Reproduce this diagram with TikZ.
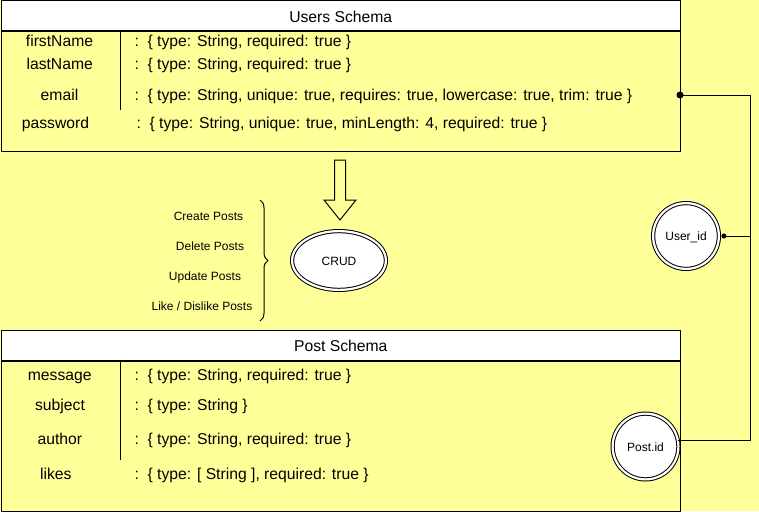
\documentclass[tikz,border=0pt]{standalone}
\usepackage{fontspec}
\setmainfont{Liberation Sans}
\usetikzlibrary{shapes.geometric,decorations.pathreplacing,arrows.meta}
\definecolor{note}{HTML}{FFFF99}

\begin{document}
\begin{tikzpicture}[x=1pt,y=-1pt,line width=1pt,line join=miter,
        every node/.style={font=\fontsize{15.7}{18}\selectfont,inner sep=0pt},
        schemahead/.style={draw,fill=white,anchor=north west,minimum width=679.5pt,minimum height=29.5pt,text height=13pt,text depth=0pt},
        schemabody/.style={draw,anchor=north west,minimum width=679.5pt},
        fieldname/.style={anchor=base},
        fieldspec/.style={anchor=base west},
        action/.style={anchor=base,font=\fontsize{12}{14}\selectfont},
        idcircle/.style={circle,draw,fill=white,double=white,double distance=2.2pt,minimum size=65.8pt,
            font=\fontsize{12}{14}\selectfont,text height=9pt,text depth=0pt}]
        \useasboundingbox (0,0) rectangle (759,511);
        \fill[note] (0,0) rectangle (759,511);
        % users schema
        \node[schemahead] (usershead) at (0.5,0.5) {Users Schema};
        \node[schemabody,minimum height=120pt] (usersbody) at (usershead.south west) {};
        \draw (120,30) -- (120,110);
        \foreach \fld/\yb/\xf/\xv/\spec in {
            {firstName/47/59.5/134/type: String, required: true},
            {lastName/69.3/59.7/134/type: String, required: true},
            {email/100/59.5/134/type: String, unique: true, requires: true, lowercase: true, trim: true},
            {password/128.3/55.5/136/type: String, unique: true, minLength: 4, required: true}}{
            \node[fieldname] (u-\fld) at (\xf,\yb) {\fld};
            \node[fieldspec] (u-\fld-spec) at (\xv,\yb) {:\ \ \{ \spec\ \}};
        }
        % post schema
        \node[schemahead] (posthead) at (0.5,330) {Post Schema};
        \node[schemabody,minimum height=150.5pt] (postbody) at (posthead.south west) {};
        \draw (120,359.5) -- (120,460);
        \foreach \fld/\yb/\xf/\spec in {
            {message/380/59.7/type: String, required: true},
            {subject/410/60/type: String},
            {author/444.3/59.8/type: String, required: true},
            {likes/479.3/55.8/type: [ String ], required: true}}{
            \node[fieldname] (p-\fld) at (\xf,\yb) {\fld};
            \node[fieldspec] (p-\fld-spec) at (134,\yb) {:\ \ \{ \spec\ \}};
        }
        % crud
        \draw[fill=note] (334.5,160) -- (345.5,160) -- (345.5,200) -- (356,200) -- (340,220)
            -- (324,200) -- (334.5,200) -- cycle;
        \node[ellipse,draw,fill=white,double=white,double distance=2.2pt,minimum width=93.8pt,minimum height=58.8pt,
            font=\fontsize{12}{14}\selectfont,text height=9pt,text depth=0pt] (crud) at (339,260.5) {CRUD};
        \draw[decorate,decoration={brace,amplitude=8pt}] (260,200) -- (260,321);
        \node[action] (create) at (208.5,220) {Create Posts};
        \node[action] (delete) at (210,250) {Delete Posts};
        \node[action] (update) at (205,280) {Update Posts};
        \node[action] (like) at (202,310) {Like / Dislike Posts};
        % ids
        \node[idcircle] (userid) at (686,236) {User\_id};
        \node[idcircle] (postid) at (645.5,446.5) {Post.id};
        \coordinate (uid) at (680,95);
        \coordinate (bus) at (750,95);
        \draw (uid) -- (bus) |- (postid.10);
        \draw[{Circle[length=5pt]}-] ([xshift=2pt]userid.east) -- (userid.east -| bus);
        \fill (uid) circle (3.5pt);
\end{tikzpicture}
\end{document}
